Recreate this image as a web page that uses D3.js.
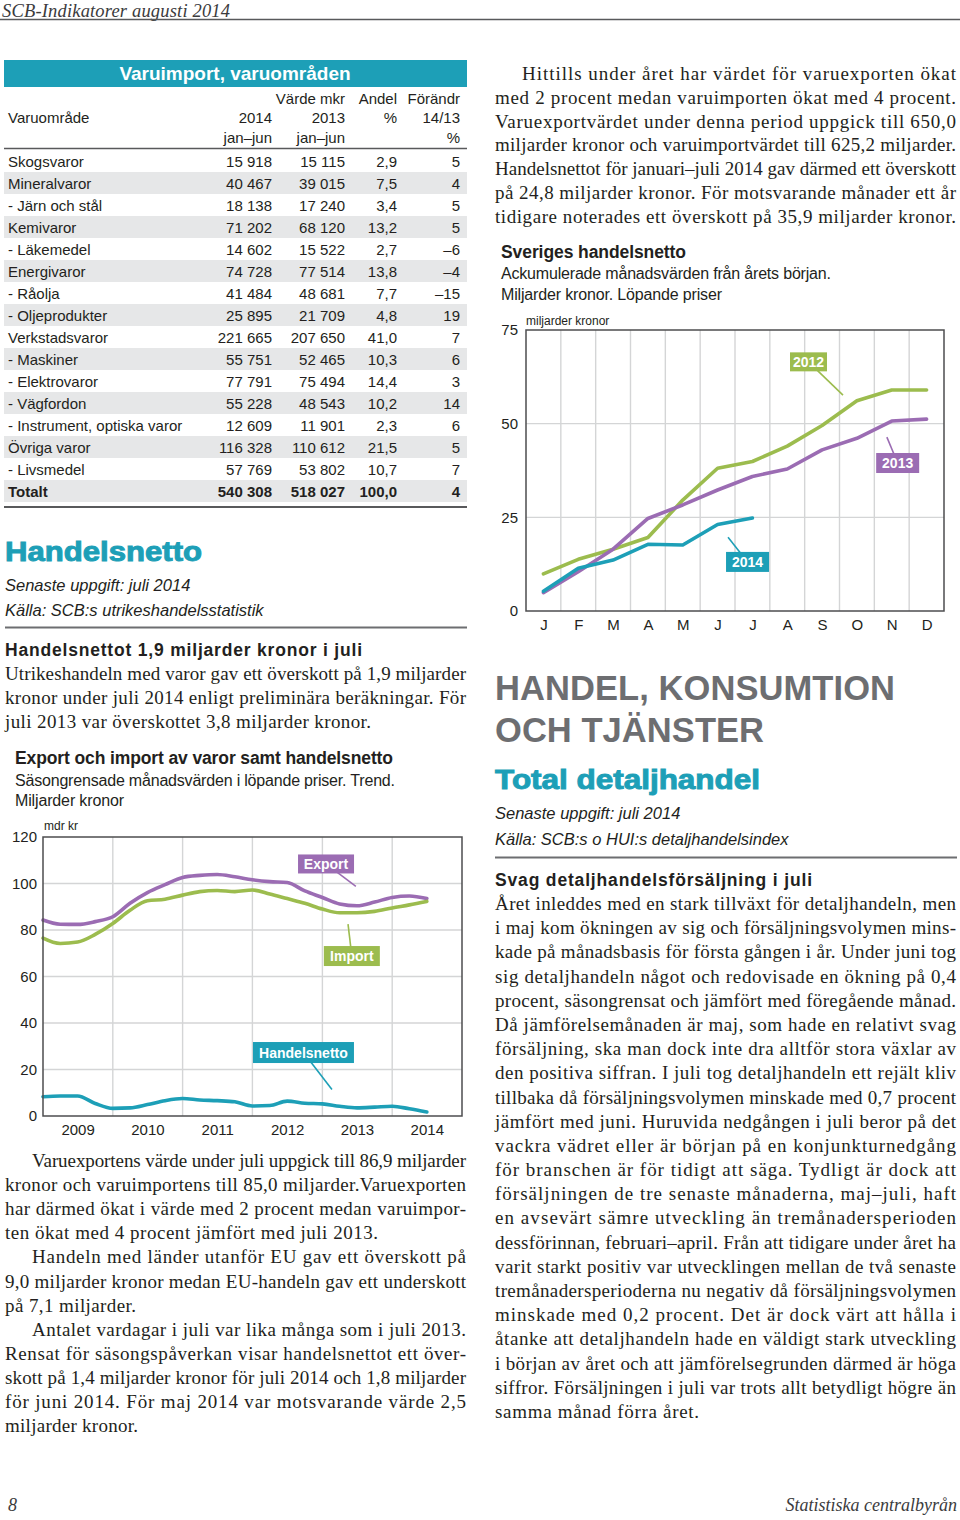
<!DOCTYPE html>
<html><head><meta charset="utf-8">
<script src="https://cdn.jsdelivr.net/npm/d3@7"></script>
<style>body{margin:0;background:#fff} svg{display:block}</style>
</head><body>
<svg id="page" width="960" height="1520"></svg>
<script>
// ---------------- DATA ----------------
const tableTitle = "Varuimport, varuområden";
const tableCategories = ["Skogsvaror","Mineralvaror","- Järn och stål","Kemivaror","- Läkemedel","Energivaror","- Råolja","- Oljeprodukter","Verkstadsvaror","- Maskiner","- Elektrovaror","- Vägfordon","- Instrument, optiska varor","Övriga varor","- Livsmedel","Totalt"];
const value2014 = [15918,40467,18138,71202,14602,74728,41484,25895,221665,55751,77791,55228,12609,116328,57769,540308];
const value2013 = [15115,39015,17240,68120,15522,77514,48681,21709,207650,52465,75494,48543,11901,110612,53802,518027];
const sharePct = [2.9,7.5,3.4,13.2,2.7,13.8,7.7,4.8,41.0,10.3,14.4,10.2,2.3,21.5,10.7,100.0];
const changePct = [5,4,5,5,-6,-4,-15,19,7,6,3,14,6,5,7,4];

// Export/import/handelsnetto trend, mdr kr (quarterly readings)
const tradeDates = ["2009-01","2009-04","2009-07","2009-10","2010-01","2010-04","2010-07","2010-10","2011-01","2011-04","2011-07","2011-10","2012-01","2012-04","2012-07","2012-10","2013-01","2013-04","2013-07","2013-10","2014-01","2014-04","2014-07"];
const exportValues = [84.3,82.5,82.4,83.6,85.7,91.5,96.1,99.5,102.6,103.5,103.9,102.9,101.6,100.8,100.4,96.8,94.0,91.2,90.4,92.0,94.0,94.6,93.5];
const importValues = [76.5,74.2,74.8,78.1,82.8,88.5,92.6,93.2,95.0,96.5,97.0,96.5,97.2,95.5,93.5,91.5,89.0,87.4,87.4,88.0,89.5,90.8,92.3];
const nettoValues  = [8.3,8.6,8.6,5.4,3.3,3.5,4.9,6.6,7.5,6.9,6.6,6.1,4.3,4.5,6.4,5.5,5.2,4.2,3.5,3.8,4.2,3.1,1.7];
const leftYTicks = [0,20,40,60,80,100,120];
const yearLabels = ["2009","2010","2011","2012","2013","2014"];

// Sveriges handelsnetto, ackumulerat, mdr kr
const monthLabels = ["J","F","M","A","M","J","J","A","S","O","N","D"];
const cum2012 = [9.9,13.8,16.5,19.6,29.6,38.1,39.9,44.0,49.5,56.1,59.0,59.0];
const cum2013 = [4.9,10.5,16.5,24.7,28.3,32.3,35.9,37.9,43.0,46.1,50.7,51.2];
const cum2014 = [5.3,11.4,13.6,17.8,17.6,23.1,24.8];
const rightYTicks = [0,25,50,75];

// ---------------- STYLE ----------------
const SANS = "'Liberation Sans', Arial, Helvetica, sans-serif";
const SERIF = "'Liberation Serif', 'Times New Roman', serif";
const TEAL = "#1d9fb7", PURPLE = "#9b6cb3", GREEN = "#9cbc4e", INK = "#231f20", GREYHEAD = "#6d6e71", GRID = "#d4d5d6", FRAME = "#4d4d4f";

const svg = d3.select("#page").attr("font-family", SANS);
const sv = d3.formatLocale({decimal: ",", thousands: " ", grouping: [3], currency: ["", ""], minus: "–"});
const fInt = sv.format(",d"), fDec = sv.format(",.1f"), fChg = sv.format("d");

function txt(x, y, s, o = {}) {
  const t = svg.append("text").attr("x", x).attr("y", y).text(s)
    .attr("font-family", o.family || SANS).attr("font-size", o.size || 15)
    .attr("fill", o.fill || INK);
  if (o.weight) t.attr("font-weight", o.weight);
  if (o.style) t.attr("font-style", o.style);
  if (o.anchor) t.attr("text-anchor", o.anchor);
  if (o.len) t.attr("textLength", o.len).attr("lengthAdjust", o.adj || "spacing");
  if (o.stroke) t.attr("stroke", o.fill).attr("stroke-width", o.stroke);
  return t;
}

// ---------------- PAGE HEADER / FOOTER ----------------
txt(2, 16.5, "SCB-Indikatorer augusti 2014", {family: SERIF, style: "italic", size: 18.5, fill: "#3b3b3d", len: 228});
svg.append("line").attr("x1", 0).attr("x2", 960).attr("y1", 19.5).attr("y2", 19.5).attr("stroke", "#58595b").attr("stroke-width", 1.3);
txt(8, 1511, "8", {family: SERIF, style: "italic", size: 18, fill: "#3b3b3d"});
txt(957, 1511, "Statistiska centralbyrån", {family: SERIF, style: "italic", size: 18, fill: "#3b3b3d", anchor: "end"});

// ---------------- TABLE ----------------
svg.append("rect").attr("x", 4).attr("y", 60).attr("width", 463).attr("height", 27).attr("fill", TEAL);
txt(235, 80, tableTitle, {weight: "bold", size: 19, fill: "#fff", anchor: "middle"});
const colRight = [272, 345, 397, 460];
txt(345, 104, "Värde mkr", {anchor: "end"});
txt(397, 104, "Andel", {anchor: "end"});
txt(460, 104, "Förändr", {anchor: "end"});
txt(8, 123, "Varuområde");
txt(272, 123, "2014", {anchor: "end"});
txt(345, 123, "2013", {anchor: "end"});
txt(397, 123, "%", {anchor: "end"});
txt(460, 123, "14/13", {anchor: "end"});
txt(272, 143, "jan–jun", {anchor: "end"});
txt(345, 143, "jan–jun", {anchor: "end"});
txt(460, 143, "%", {anchor: "end"});
svg.append("line").attr("x1", 4).attr("x2", 467).attr("y1", 148.5).attr("y2", 148.5).attr("stroke", "#58595b").attr("stroke-width", 1.6);

const yRow = d3.scaleBand().domain(tableCategories).range([150, 502]);
const rows = svg.append("g").selectAll("g").data(tableCategories).join("g")
  .attr("transform", d => `translate(0,${yRow(d)})`);
rows.filter((d, i) => i % 2 === 1).append("rect")
  .attr("x", 4).attr("width", 463).attr("height", yRow.bandwidth()).attr("fill", "#e6e7e8");
rows.each(function(d, i) {
  const g = d3.select(this);
  const bold = d === "Totalt" ? "bold" : null;
  const cells = [fInt(value2014[i]), fInt(value2013[i]), fDec(sharePct[i]), fChg(changePct[i])];
  g.append("text").attr("x", 8).attr("y", 16.5).attr("font-size", 15).attr("fill", INK).attr("font-weight", bold).text(d);
  cells.forEach((c, k) => g.append("text").attr("x", colRight[k]).attr("y", 16.5).attr("text-anchor", "end")
    .attr("font-size", 15).attr("fill", INK).attr("font-weight", bold).text(c));
});
svg.append("line").attr("x1", 4).attr("x2", 467).attr("y1", 507).attr("y2", 507).attr("stroke", "#58595b").attr("stroke-width", 1.8);

// ---------------- HANDELSNETTO SECTION ----------------
txt(5, 561, "Handelsnetto", {weight: "bold", size: 28, fill: TEAL, stroke: 1, len: 197, adj: "spacingAndGlyphs"});
txt(5, 591, "Senaste uppgift: juli 2014", {style: "italic", size: 16.5});
txt(5, 616, "Källa: SCB:s utrikeshandelsstatistik", {style: "italic", size: 16.5});
svg.append("line").attr("x1", 5).attr("x2", 467).attr("y1", 627.5).attr("y2", 627.5).attr("stroke", GREYHEAD).attr("stroke-width", 2);
txt(5, 656, "Handelsnettot 1,9 miljarder kronor i juli", {weight: "bold", size: 17.5, len: 357});

function para(x0, x1, y0, lh, lines) {
  lines.forEach((ln, i) => {
    const xs = x0 + (ln.i ? 27 : 0);
    const o = {family: SERIF, size: 19};
    if (ln.e) o.len = ln.e - xs; else o.len = x1 - xs;
    txt(xs, y0 + i * lh, ln.t, o);
  });
}
para(5, 466, 680, 23.8, [
  {t: "Utrikeshandeln med varor gav ett överskott på 1,9 miljarder"},
  {t: "kronor under juli 2014 enligt preliminära beräkningar. För"},
  {t: "juli 2013 var överskottet 3,8 miljarder kronor.", e: 371}
]);

// ---------------- LEFT CHART ----------------
txt(15, 764, "Export och import av varor samt handelsnetto", {weight: "bold", size: 17.5, len: 378});
txt(15, 786, "Säsongrensade månadsvärden i löpande priser. Trend.", {size: 16, len: 380});
txt(15, 806, "Miljarder kronor", {size: 16, len: 109});
txt(44, 830, "mdr kr", {size: 12});

const parse = d3.timeParse("%Y-%m");
const xL = d3.scaleTime().domain([new Date(2009, 0, 1), new Date(2015, 0, 1)]).range([43, 462]);
const yL = d3.scaleLinear().domain([0, 120]).range([1116, 837]);
const gl = svg.append("g");
gl.selectAll(".hg").data(leftYTicks.slice(1, -1)).join("line")
  .attr("x1", 43).attr("x2", 462).attr("y1", d => yL(d)).attr("y2", d => yL(d))
  .attr("stroke", GRID).attr("stroke-width", 1.4);
gl.selectAll(".vg").data(yearLabels.slice(1)).join("line")
  .attr("x1", d => xL(new Date(+d, 0, 1))).attr("x2", d => xL(new Date(+d, 0, 1)))
  .attr("y1", 837).attr("y2", 1116).attr("stroke", GRID).attr("stroke-width", 1.4);

const lineL = d3.line().x((d, i) => xL(parse(tradeDates[i]))).y(d => yL(d)).curve(d3.curveMonotoneX);
[[exportValues, PURPLE], [importValues, GREEN], [nettoValues, TEAL]].forEach(([vals, col]) => {
  gl.append("path").attr("d", lineL(vals)).attr("fill", "none").attr("stroke", col)
    .attr("stroke-width", 3.6).attr("stroke-linejoin", "round").attr("stroke-linecap", "round");
});
gl.append("rect").attr("x", 43).attr("y", 837).attr("width", 419).attr("height", 279)
  .attr("fill", "none").attr("stroke", FRAME).attr("stroke-width", 1.5);

const axL = gl.append("g").attr("transform", "translate(43,0)")
  .call(d3.axisLeft(yL).tickValues(leftYTicks).tickSize(0).tickPadding(6));
axL.select(".domain").remove();
axL.selectAll("text").attr("font-size", 15).attr("font-family", SANS).attr("fill", INK);
const axLB = gl.append("g").attr("transform", "translate(0,1116)")
  .call(d3.axisBottom(xL).tickValues(yearLabels.map(y => new Date(+y, 6, 1))).tickFormat(d3.timeFormat("%Y")).tickSize(0).tickPadding(8));
axLB.select(".domain").remove();
axLB.selectAll("text").attr("font-size", 15).attr("font-family", SANS).attr("fill", INK);

function callout(g, cx, cy, w, h, tx, ty, col, label) {
  g.append("line").attr("x1", cx).attr("y1", cy).attr("x2", tx).attr("y2", ty)
    .attr("stroke", col).attr("stroke-width", 1.6);
  g.append("rect").attr("x", cx - w / 2).attr("y", cy - h / 2).attr("width", w).attr("height", h).attr("fill", col);
  g.append("text").attr("x", cx).attr("y", cy + 5).attr("text-anchor", "middle").attr("font-size", 14)
    .attr("font-weight", "bold").attr("fill", "#fff").text(label);
}
const dt = s => xL(d3.timeParse("%Y-%m-%d")(s));
callout(gl, dt("2013-01-20"), yL(108.4), 56, 19, dt("2013-06-25"), yL(98.8), PURPLE, "Export");
callout(gl, dt("2013-06-04"), yL(68.8), 56, 20, dt("2013-05-15"), yL(82.5), GREEN, "Import");
callout(gl, dt("2012-09-24"), yL(27.3), 101, 21, dt("2013-02-20"), yL(11.4), TEAL, "Handelsnetto");

para(5, 466, 1167, 24.1, [
  {t: "Varuexportens värde under juli uppgick till 86,9 miljarder", i: 1},
  {t: "kronor och varuimportens till 85,0 miljarder.Varuexporten"},
  {t: "har därmed ökat i värde med 2 procent medan varuimpor-"},
  {t: "ten ökat med 4 procent jämfört med juli 2013.", e: 378},
  {t: "Handeln med länder utanför EU gav ett överskott på", i: 1},
  {t: "9,0 miljarder kronor medan EU-handeln gav ett underskott"},
  {t: "på 7,1 miljarder.", e: 136},
  {t: "Antalet vardagar i juli var lika många som i juli 2013.", i: 1},
  {t: "Rensat för säsongspåverkan visar handelsnettot ett över-"},
  {t: "skott på 1,4 miljarder kronor för juli 2014 och 1,8 miljarder"},
  {t: "för juni 2014. För maj 2014 var motsvarande värde 2,5"},
  {t: "miljarder kronor.", e: 138}
]);

// ---------------- RIGHT TOP TEXT ----------------
para(495, 956, 80, 23.8, [
  {t: "Hittills under året har värdet för varuexporten ökat", i: 1},
  {t: "med 2 procent medan varuimporten ökat med 4 procent."},
  {t: "Varuexportvärdet under denna period uppgick till 650,0"},
  {t: "miljarder kronor och varuimportvärdet till 625,2 miljarder."},
  {t: "Handelsnettot för januari–juli 2014 gav därmed ett överskott"},
  {t: "på 24,8 miljarder kronor. För motsvarande månader ett år"},
  {t: "tidigare noterades ett överskott på 35,9 miljarder kronor."}
]);

// ---------------- RIGHT CHART ----------------
txt(501, 258, "Sveriges handelsnetto", {weight: "bold", size: 17.5, len: 185});
txt(501, 279, "Ackumulerade månadsvärden från årets början.", {size: 16, len: 330});
txt(501, 300, "Miljarder kronor. Löpande priser", {size: 16, len: 221});
txt(526, 325, "miljarder kronor", {size: 12});

const xR = d3.scaleLinear().domain([-0.5, 11.5]).range([526, 944]);
const yR = d3.scaleLinear().domain([0, 75]).range([611, 330]);
const gr = svg.append("g");
gr.selectAll(".hg").data(rightYTicks.slice(1, -1)).join("line")
  .attr("x1", 526).attr("x2", 944).attr("y1", d => yR(d)).attr("y2", d => yR(d))
  .attr("stroke", GRID).attr("stroke-width", 1.4);
gr.selectAll(".vg").data(d3.range(11)).join("line")
  .attr("x1", d => xR(d + 0.5)).attr("x2", d => xR(d + 0.5)).attr("y1", 330).attr("y2", 611)
  .attr("stroke", GRID).attr("stroke-width", 1.4);
const lineR = d3.line().x((d, i) => xR(i)).y(d => yR(d));
[[cum2012, GREEN], [cum2013, PURPLE], [cum2014, TEAL]].forEach(([vals, col]) => {
  gr.append("path").attr("d", lineR(vals)).attr("fill", "none").attr("stroke", col)
    .attr("stroke-width", 3.6).attr("stroke-linejoin", "round").attr("stroke-linecap", "round");
});
gr.append("rect").attr("x", 526).attr("y", 330).attr("width", 418).attr("height", 281)
  .attr("fill", "none").attr("stroke", FRAME).attr("stroke-width", 1.5);
const axR = gr.append("g").attr("transform", "translate(526,0)")
  .call(d3.axisLeft(yR).tickValues(rightYTicks).tickSize(0).tickPadding(8));
axR.select(".domain").remove();
axR.selectAll("text").attr("font-size", 15).attr("font-family", SANS).attr("fill", INK);
const axRB = gr.append("g").attr("transform", "translate(0,611)")
  .call(d3.axisBottom(xR).tickValues(d3.range(12)).tickFormat(i => monthLabels[i]).tickSize(0).tickPadding(8));
axRB.select(".domain").remove();
axRB.selectAll("text").attr("font-size", 15).attr("font-family", SANS).attr("fill", INK);

callout(gr, xR(7.61), yR(66.5), 37, 19, xR(8.6), yR(57.6), GREEN, "2012");
callout(gr, xR(10.17), yR(39.5), 43, 20, xR(9.86), yR(46.4), PURPLE, "2013");
callout(gr, xR(5.86), yR(13.1), 43, 20, xR(5.3), yR(19.7), TEAL, "2014");

// ---------------- HANDEL, KONSUMTION ----------------
txt(495, 700, "HANDEL, KONSUMTION", {weight: "bold", size: 34.5, fill: GREYHEAD, len: 400});
txt(495, 742, "OCH TJÄNSTER", {weight: "bold", size: 34.5, fill: GREYHEAD, len: 269});
txt(495, 789, "Total detaljhandel", {weight: "bold", size: 28, fill: TEAL, stroke: 1, len: 265, adj: "spacingAndGlyphs"});
txt(495, 819, "Senaste uppgift: juli 2014", {style: "italic", size: 16.5});
txt(495, 845, "Källa: SCB:s o HUI:s detaljhandelsindex", {style: "italic", size: 16.5});
svg.append("line").attr("x1", 495).attr("x2", 957).attr("y1", 857.5).attr("y2", 857.5).attr("stroke", GREYHEAD).attr("stroke-width", 2);
txt(495, 886, "Svag detaljhandelsförsäljning i juli", {weight: "bold", size: 17.5, len: 317});

para(495, 956, 910, 24.19, [
  {t: "Året inleddes med en stark tillväxt för detaljhandeln, men"},
  {t: "i maj kom ökningen av sig och försäljningsvolymen mins-"},
  {t: "kade på månadsbasis för första gången i år. Under juni tog"},
  {t: "sig detaljhandeln något och redovisade en ökning på 0,4"},
  {t: "procent, säsongrensat och jämfört med föregående månad."},
  {t: "Då jämförelsemånaden är maj, som hade en relativt svag"},
  {t: "försäljning, ska man dock inte dra alltför stora växlar av"},
  {t: "den positiva siffran. I juli tog detaljhandeln ett rejält kliv"},
  {t: "tillbaka då försäljningsvolymen minskade med 0,7 procent"},
  {t: "jämfört med juni. Huruvida nedgången i juli beror på det"},
  {t: "vackra vädret eller är början på en konjunkturnedgång"},
  {t: "för branschen är för tidigt att säga. Tydligt är dock att"},
  {t: "försäljningen de tre senaste månaderna, maj–juli, haft"},
  {t: "en avsevärt sämre utveckling än tremånadersperioden"},
  {t: "dessförinnan, februari–april. Från att tidigare under året ha"},
  {t: "varit starkt positiv var utvecklingen mellan de två senaste"},
  {t: "tremånadersperioderna nu negativ då försäljningsvolymen"},
  {t: "minskade med 0,2 procent. Det är dock värt att hålla i"},
  {t: "åtanke att detaljhandeln hade en väldigt stark utveckling"},
  {t: "i början av året och att jämförelsegrunden därmed är höga"},
  {t: "siffror. Försäljningen i juli var trots allt betydligt högre än"},
  {t: "samma månad förra året.", e: 699}
]);
</script>
</body></html>
